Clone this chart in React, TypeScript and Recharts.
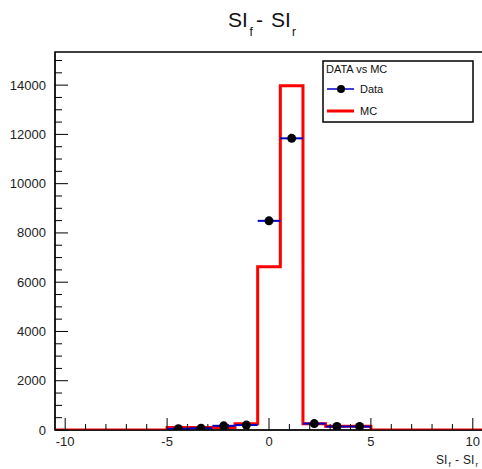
import React from 'react';
import { ComposedChart, Line, Scatter, XAxis, YAxis, ErrorBar, ReferenceArea, Legend } from 'recharts';

// Histogram bin edges (SI_f - SI_r)
const binEdges = [-5, -3.889, -2.778, -1.667, -0.556, 0.556, 1.667, 2.778, 3.889, 5];
// MC histogram contents per bin
const mcCounts = [100, 100, 100, 250, 6630, 13970, 250, 155, 150];
// Data contents per bin
const dataCounts = [50, 70, 170, 200, 8490, 11840, 260, 140, 140];

const xRange = [-10.5, 10.5];
const yMax = 15345;
const xTicks = [-10, -9, -8, -7, -6, -5, -4, -3, -2, -1, 0, 1, 2, 3, 4, 5, 6, 7, 8, 9, 10];
const xMajorTicks = [-10, -5, 0, 5, 10];
const yTicks = [0, 500, 1000, 1500, 2000, 2500, 3000, 3500, 4000, 4500, 5000, 5500, 6000, 6500, 7000, 7500, 8000, 8500, 9000, 9500, 10000, 10500, 11000, 11500, 12000, 12500, 13000, 13500, 14000, 14500, 15000];
const yMajorTicks = [0, 2000, 4000, 6000, 8000, 10000, 12000, 14000];

const FONT = "'Liberation Sans', Arial, Helvetica, sans-serif";

const mcStep = [
  { x: xRange[0], y: 0 },
  ...mcCounts.map((c, i) => ({ x: binEdges[i], y: c })),
  { x: binEdges[binEdges.length - 1], y: 0 },
  { x: xRange[1], y: 0 },
];

const dataPoints = dataCounts.map((c, i) => ({
  x: (binEdges[i] + binEdges[i + 1]) / 2,
  y: c,
  xerr: (binEdges[i + 1] - binEdges[i]) / 2,
}));

const XTick = (props: any) => {
  const { x, y, payload } = props;
  const v = payload.value;
  const major = xMajorTicks.includes(v);
  return (
    <g>
      <line x1={x} x2={x} y1={y} y2={y - (major ? 12 : 6)} stroke="#000" strokeWidth={1} />
      {major && (
        <text x={x} y={y + 16} textAnchor="middle" fontSize={13} fontFamily={FONT} fill="#222">
          {v}
        </text>
      )}
    </g>
  );
};

const YTick = (props: any) => {
  const { x, y, payload } = props;
  const v = payload.value;
  const major = yMajorTicks.includes(v);
  return (
    <g>
      <line x1={x} x2={x + (major ? 13 : 7)} y1={y} y2={y} stroke="#000" strokeWidth={1} />
      {major && (
        <text x={x - 9} y={y + 4.5} textAnchor="end" fontSize={13} fontFamily={FONT} fill="#222">
          {v}
        </text>
      )}
    </g>
  );
};

const LegendBox = () => (
  <svg width={153} height={64} style={{ display: 'block' }}>
    <rect x={1} y={1} width={150} height={61} fill="#fff" stroke="#000" strokeWidth={1.5} />
    <text x={4} y={13} fontSize={11} fontFamily={FONT} fill="#111">DATA vs MC</text>
    <line x1={5} x2={32} y1={29} y2={29} stroke="#0000cc" strokeWidth={1.5} />
    <circle cx={19} cy={29} r={4} fill="#000" />
    <text x={38} y={33} fontSize={11} fontFamily={FONT} fill="#111">Data</text>
    <line x1={5} x2={32} y1={51} y2={51} stroke="#ff0000" strokeWidth={3} />
    <text x={38} y={55} fontSize={11} fontFamily={FONT} fill="#111">MC</text>
  </svg>
);

export default function App() {
  return (
    <div style={{ position: 'absolute', left: 0, top: 0, width: 482, height: 469, overflow: 'hidden', background: '#fff' }}>
      <ComposedChart width={490} height={469} margin={{ top: 52, right: 7, left: 0, bottom: 0 }}>
        <XAxis
          dataKey="x"
          type="number"
          domain={xRange}
          ticks={xTicks}
          interval={0}
          allowDataOverflow
          height={39}
          tickSize={0}
          tickMargin={0}
          tickLine={false}
          axisLine={{ stroke: '#000', strokeWidth: 1 }}
          tick={<XTick />}
        />
        <YAxis
          type="number"
          domain={[0, yMax]}
          ticks={yTicks}
          interval={0}
          allowDataOverflow
          width={55}
          tickSize={0}
          tickMargin={0}
          tickLine={false}
          axisLine={{ stroke: '#000', strokeWidth: 1 }}
          tick={<YTick />}
        />
        <ReferenceArea x1={xRange[0]} x2={xRange[1]} y1={0} y2={yMax} fill="none" stroke="#000" strokeWidth={1.5} ifOverflow="visible" />
        <Line
          data={mcStep}
          dataKey="y"
          type="stepAfter"
          stroke="#ff0000"
          strokeWidth={3}
          dot={false}
          activeDot={false}
          isAnimationActive={false}
          legendType="none"
        />
        <Scatter
          data={dataPoints}
          dataKey="y"
          isAnimationActive={false}
          shape={(p: any) => <circle cx={p.cx} cy={p.cy} r={4.5} fill="#000" />}
        >
          <ErrorBar dataKey="xerr" direction="x" width={0} stroke="#0000cc" strokeWidth={2} isAnimationActive={false} />
        </Scatter>
        <Legend
          layout="vertical"
          align="center"
          verticalAlign="middle"
          content={() => <LegendBox />}
          wrapperStyle={{ position: 'absolute', left: 322, top: 60, width: 153, height: 64 }}
        />
      </ComposedChart>
      <svg width={482} height={469} style={{ position: 'absolute', left: 0, top: 0, pointerEvents: 'none' }}>
        <g fontFamily={FONT} fill="#111">
          <text x={228} y={27} fontSize={21}>SI</text>
          <text x={249.5} y={36} fontSize={12}>f</text>
          <text x={256} y={27} fontSize={21}>-</text>
          <text x={271} y={27} fontSize={21}>SI</text>
          <text x={292} y={36} fontSize={12}>r</text>
        </g>
        <g fontFamily={FONT} fill="#222">
          <text x={436} y={464} fontSize={12}>SI</text>
          <text x={448.5} y={467} fontSize={8}>f</text>
          <text x={455} y={464} fontSize={12}>-</text>
          <text x={463} y={464} fontSize={12}>SI</text>
          <text x={475.5} y={467} fontSize={8}>r</text>
        </g>
      </svg>
    </div>
  );
}
